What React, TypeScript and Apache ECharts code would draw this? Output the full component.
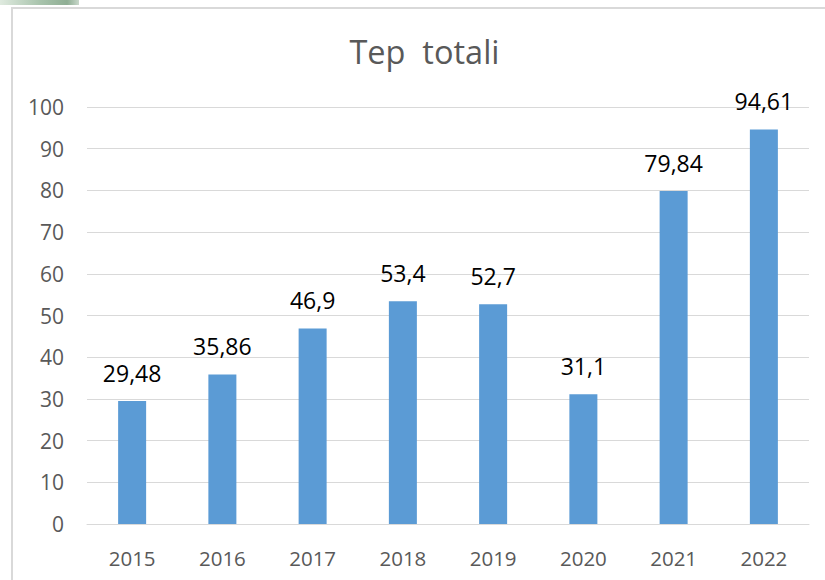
import React, { useEffect, useRef } from "react";
import * as echarts from "echarts";

const years = ["2015", "2016", "2017", "2018", "2019", "2020", "2021", "2022"];
const tepValues = [29.48, 35.86, 46.9, 53.4, 52.7, 31.1, 79.84, 94.61];
const titleText = "Tep  totali";

export default function App() {
  const ref = useRef<HTMLDivElement>(null);
  useEffect(() => {
    if (!ref.current) return;
    const chart = echarts.init(ref.current, null, { renderer: "svg" });
    const font = "'Open Sans', 'Noto Sans', sans-serif";
    chart.setOption({
      animation: false,
      backgroundColor: "#ffffff",
      grid: { left: 87, right: 16, top: 107, bottom: 56, containLabel: false },
      xAxis: {
        type: "category",
        data: years,
        axisLine: { show: true, lineStyle: { color: "#d9d9d9", width: 1 } },
        axisTick: { show: false },
        axisLabel: { color: "#595959", fontSize: 20.5, fontFamily: font, margin: 23 },
      },
      yAxis: {
        type: "value",
        min: 0,
        max: 100,
        interval: 10,
        axisLine: { show: false },
        axisTick: { show: false },
        splitLine: { lineStyle: { color: "#d9d9d9", width: 1 } },
        axisLabel: { color: "#595959", fontSize: 21, fontFamily: font, margin: 23 },
      },
      series: [
        {
          type: "bar",
          data: tepValues,
          barWidth: 28,
          itemStyle: { color: "#5b9bd5" },
          label: {
            show: true,
            position: "top",
            distance: 17,
            color: "#000000",
            fontSize: 23,
            fontFamily: font,
            formatter: (p: any) => String(p.value).replace(".", ","),
          },
        },
      ],
      graphic: [
        {
          type: "rect",
          shape: { x: 0, y: 0, width: 79, height: 5 },
          style: {
            fill: new echarts.graphic.LinearGradient(0, 0, 1, 0, [
              { offset: 0, color: "#dfeadf" },
              { offset: 0.5, color: "#a9c4ad" },
              { offset: 0.85, color: "#8fae94" },
              { offset: 1, color: "#c9d8cb" },
            ]),
          },
          silent: true,
        },
        {
          type: "line",
          shape: { x1: 11, y1: 8, x2: 825, y2: 8 },
          style: { stroke: "#d9d9d9", lineWidth: 2 },
          silent: true,
        },
        {
          type: "line",
          shape: { x1: 12, y1: 7, x2: 12, y2: 580 },
          style: { stroke: "#d9d9d9", lineWidth: 2 },
          silent: true,
        },
        {
          type: "text",
          x: 424.5,
          y: 51,
          style: {
            text: titleText,
            fill: "#595959",
            fontSize: 32.5,
            fontFamily: font,
            align: "center",
            verticalAlign: "middle",
          },
          silent: true,
        },
      ],
    });
    return () => chart.dispose();
  }, []);
  return (
    <div
      ref={ref}
      style={{ position: "absolute", left: 0, top: 0, width: 825, height: 580 }}
    />
  );
}
